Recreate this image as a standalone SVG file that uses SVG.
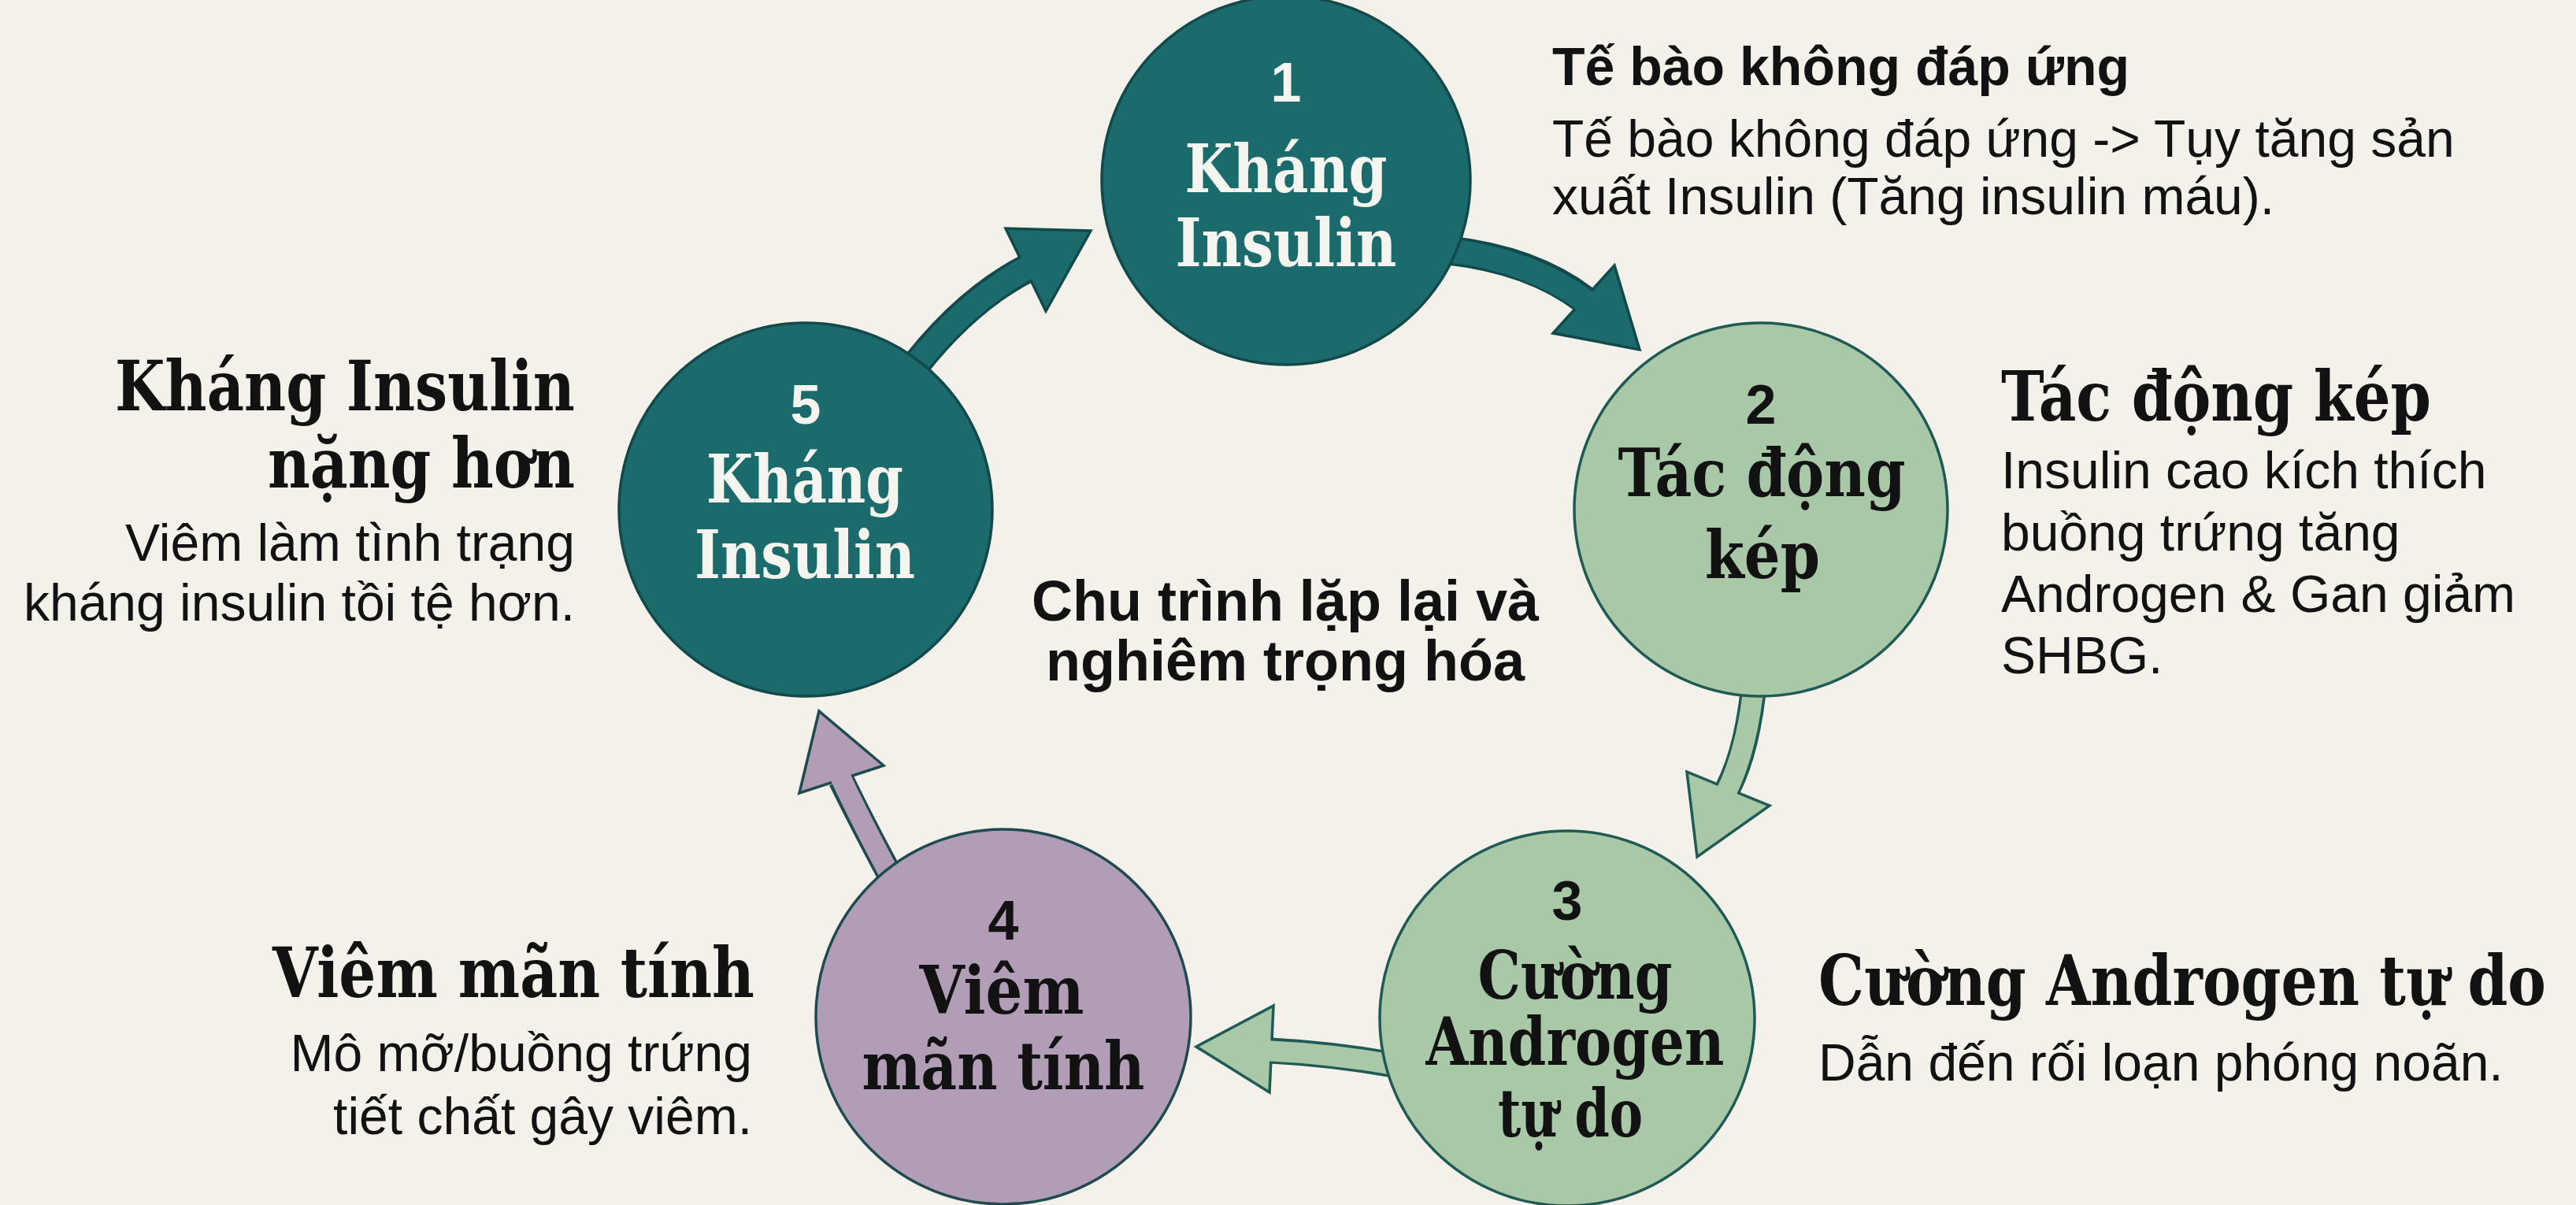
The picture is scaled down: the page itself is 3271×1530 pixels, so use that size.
<svg xmlns="http://www.w3.org/2000/svg" width="3271" height="1530" viewBox="0 0 3271 1530">
<style>
.bg{fill:#f4f1ea}
.teal{fill:#1b6a6c;stroke:#124a4c;stroke-width:3.5}
.green{fill:#a9c8a7;stroke:#1f5a55;stroke-width:3.5}
.lilac{fill:#b19db5;stroke:#1f4a4f;stroke-width:3.5}
.num{font-family:"Liberation Sans",Arial,sans-serif;font-weight:bold;font-size:70px;text-anchor:middle}
.ctitle{font-family:"DejaVu Serif","Liberation Serif",serif;font-weight:bold;font-size:84px;text-anchor:middle}
.light{fill:#f5f5ef}
.dark{fill:#121212}
.head{font-family:"DejaVu Serif","Liberation Serif",serif;font-weight:bold;font-size:88px;fill:#121212}
.shead{font-family:"Liberation Sans",Arial,sans-serif;font-weight:bold;font-size:68px;fill:#121212}
.body{font-family:"Liberation Sans",Arial,sans-serif;font-size:66px;fill:#121212}
.center{font-family:"Liberation Sans",Arial,sans-serif;font-weight:bold;font-size:72px;fill:#121212;text-anchor:middle}
.end{text-anchor:end}
.so-teal{fill:none;stroke:#124a4c;stroke-width:37}
.si-teal{fill:none;stroke:#1b6a6c;stroke-width:30}
.so-green{fill:none;stroke:#1f5a55;stroke-width:33}
.si-green{fill:none;stroke:#a9c8a7;stroke-width:26}
.so-lilac{fill:none;stroke:#1f4a4f;stroke-width:33}
.si-lilac{fill:none;stroke:#b19db5;stroke-width:26}
</style>
<rect class="bg" x="0" y="0" width="3271" height="1530"/>

<g id="connectors">
  <g id="arrow-1-2">
    <path class="so-teal" d="M1840 318 Q1945 330 2011 380"/>
    <polygon class="teal" points="2082,444 2050,337 1972,423"/>
    <path class="si-teal" d="M1840 318 Q1945 330 2018 386"/>
  </g>
  <g id="arrow-2-3">
    <path class="so-green" d="M2228 860 Q2220 950 2194 1001"/>
    <polygon class="green" points="2155,1088 2142,980 2247,1023"/>
    <path class="si-green" d="M2228 860 Q2220 950 2191 1008"/>
  </g>
  <g id="arrow-3-4">
    <path class="so-green" d="M1770 1352 Q1690 1338 1614 1334"/>
    <polygon class="green" points="1519,1329 1617,1277 1612,1387"/>
    <path class="si-green" d="M1770 1352 Q1690 1338 1606 1334"/>
  </g>
  <g id="arrow-4-5">
    <path class="so-lilac" d="M1135 1120 Q1092 1040 1068 990"/>
    <polygon class="lilac" points="1040,903 1015,1007 1122,972"/>
    <path class="si-lilac" d="M1135 1120 Q1092 1040 1065 982"/>
  </g>
  <g id="arrow-5-1">
    <path class="so-teal" d="M1150 480 Q1220 385 1302 342"/>
    <polygon class="teal" points="1385,293 1277,290 1328,395"/>
    <path class="si-teal" d="M1150 480 Q1220 385 1310 337"/>
  </g>
</g>

<g id="node-1">
  <circle class="teal" cx="1633" cy="229" r="234"/>
  <text class="num light" x="1633" y="129">1</text>
  <text class="ctitle light" x="1633" y="244" textLength="257" lengthAdjust="spacingAndGlyphs">Kháng</text>
  <text class="ctitle light" x="1633" y="338" textLength="281" lengthAdjust="spacingAndGlyphs">Insulin</text>
</g>
<g id="node-2">
  <circle class="green" cx="2236" cy="647" r="237"/>
  <text class="num dark" x="2236" y="538">2</text>
  <text class="ctitle dark" x="2237" y="630" textLength="365" lengthAdjust="spacingAndGlyphs">Tác động</text>
  <text class="ctitle dark" x="2238" y="734" textLength="146" lengthAdjust="spacingAndGlyphs">kép</text>
</g>
<g id="node-3">
  <circle class="green" cx="1990" cy="1293" r="238"/>
  <text class="num dark" x="1990" y="1168">3</text>
  <text class="ctitle dark" x="2000" y="1268" textLength="247" lengthAdjust="spacingAndGlyphs">Cường</text>
  <text class="ctitle dark" x="2000" y="1352" textLength="379" lengthAdjust="spacingAndGlyphs">Androgen</text>
  <text class="ctitle dark" x="1994" y="1443" textLength="184" lengthAdjust="spacingAndGlyphs">tự do</text>
</g>
<g id="node-4">
  <circle class="lilac" cx="1274" cy="1291" r="238"/>
  <text class="num dark" x="1274" y="1193">4</text>
  <text class="ctitle dark" x="1272" y="1287" textLength="209" lengthAdjust="spacingAndGlyphs">Viêm</text>
  <text class="ctitle dark" x="1274" y="1383" textLength="359" lengthAdjust="spacingAndGlyphs">mãn tính</text>
</g>
<g id="node-5">
  <circle class="teal" cx="1023" cy="647" r="237"/>
  <text class="num light" x="1023" y="538">5</text>
  <text class="ctitle light" x="1022" y="638" textLength="250" lengthAdjust="spacingAndGlyphs">Kháng</text>
  <text class="ctitle light" x="1022" y="734" textLength="280" lengthAdjust="spacingAndGlyphs">Insulin</text>
</g>

<g id="note-1">
  <text class="shead" x="1971" y="108">Tế bào không đáp ứng</text>
  <text class="body" x="1971" y="199">Tế bào không đáp ứng -&gt; Tụy tăng sản</text>
  <text class="body" x="1971" y="272">xuất Insulin (Tăng insulin máu).</text>
</g>
<g id="note-2">
  <text class="head" x="2541" y="534" textLength="546" lengthAdjust="spacingAndGlyphs">Tác động kép</text>
  <text class="body" x="2541" y="620">Insulin cao kích thích</text>
  <text class="body" x="2541" y="699">buồng trứng tăng</text>
  <text class="body" x="2541" y="777">Androgen &amp; Gan giảm</text>
  <text class="body" x="2541" y="855">SHBG.</text>
</g>
<g id="note-3">
  <text class="head" x="2309" y="1276" textLength="924" lengthAdjust="spacingAndGlyphs">Cường Androgen tự do</text>
  <text class="body" x="2309" y="1372">Dẫn đến rối loạn phóng noãn.</text>
</g>
<g id="note-4">
  <text class="head end" x="958" y="1266" textLength="612" lengthAdjust="spacingAndGlyphs">Viêm mãn tính</text>
  <text class="body end" x="955" y="1360">Mô mỡ/buồng trứng</text>
  <text class="body end" x="955" y="1440">tiết chất gây viêm.</text>
</g>
<g id="note-5">
  <text class="head end" x="730" y="521" textLength="584" lengthAdjust="spacingAndGlyphs">Kháng Insulin</text>
  <text class="head end" x="730" y="619" textLength="390" lengthAdjust="spacingAndGlyphs">nặng hơn</text>
  <text class="body end" x="730" y="712">Viêm làm tình trạng</text>
  <text class="body end" x="730" y="788">kháng insulin tồi tệ hơn.</text>
</g>
<g id="center-label">
  <text class="center" x="1632" y="788">Chu trình lặp lại và</text>
  <text class="center" x="1632" y="864">nghiêm trọng hóa</text>
</g>
</svg>
